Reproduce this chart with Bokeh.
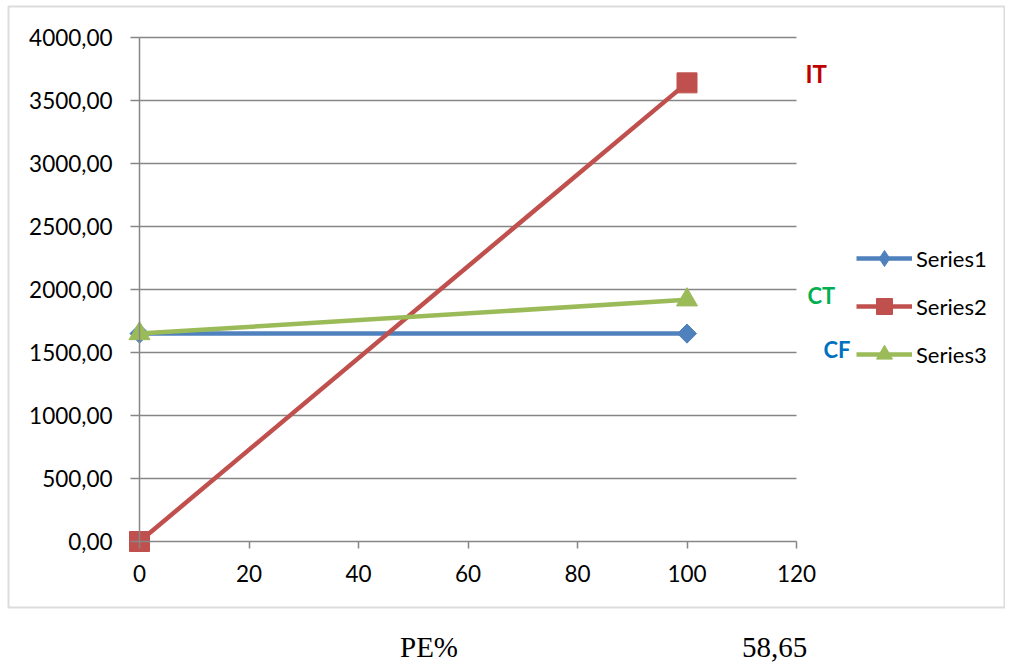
import math
from bokeh.plotting import figure
from bokeh.models import (FixedTicker, CustomJSTickFormatter, Label, Legend, LegendItem,
                          Range1d, Div, LinearAxis, ColumnDataSource, BoxAnnotation)
from bokeh.layouts import column
from bokeh.embed import file_html
from bokeh.resources import INLINE

# ---- data ----
pe = [0, 100]
series1 = [1650, 1650]
series2 = [0, 3640]
series3 = [1650, 1918]
series_names = ["Series1", "Series2", "Series3"]
x_ticks = [0, 20, 40, 60, 80, 100, 120]
y_ticks = [0, 500, 1000, 1500, 2000, 2500, 3000, 3500, 4000]
curve_labels = ["IT", "CT", "CF"]
bottom_texts = ["PE%", "58,65"]

colors = ["#4F81BD", "#C0504D", "#9BBB59"]
label_colors = ["#C00000", "#00B050", "#0070C0"]
AX = "#868686"
FONT = "Lato"

# ---- layout (pixel) constants ----
W, H = 1005, 612
X_LO_PX, X_HI_PX = 139.0, 796.0      # pixel of x=0 and x=120
Y_LO_PX, Y_HI_PX = 541.0, 37.0       # pixel of y=0 and y=4000 (from top)
xs = (X_HI_PX - X_LO_PX) / (x_ticks[-1] - x_ticks[0])
ys = (Y_LO_PX - Y_HI_PX) / (y_ticks[-1] - y_ticks[0])
x_start = x_ticks[0] - X_LO_PX / xs
x_end = x_start + W / xs
y_start = y_ticks[0] - (H - Y_LO_PX) / ys
y_end = y_start + H / ys


def dx(px):
    return x_start + px / xs


def dy(py):
    return y_start + (H - py) / ys


p = figure(width=W, height=H, output_backend="svg", toolbar_location=None,
           x_range=Range1d(x_start, x_end), y_range=Range1d(y_start, y_end),
           x_axis_location=None, y_axis_location=None,
           min_border=0, min_border_left=0, min_border_right=0,
           min_border_top=0, min_border_bottom=0)
p.outline_line_color = None
p.xgrid.visible = False
p.ygrid.visible = False

# outer chart box
p.add_layout(BoxAnnotation(left=dx(8), right=dx(W - 1), top=dy(6), bottom=dy(607),
                           fill_alpha=0, line_color="#8c8c8c", line_width=2))

# gridlines from tick array, spanning data x 0..120
gsrc = ColumnDataSource(dict(y=y_ticks[1:], x0=[x_ticks[0]] * (len(y_ticks) - 1),
                             x1=[x_ticks[-1]] * (len(y_ticks) - 1)))
p.segment(x0="x0", x1="x1", y0="y", y1="y", source=gsrc, line_color=AX, line_width=1.5)

fmt = CustomJSTickFormatter(code="return tick.toFixed(2).replace('.', ',');")
yax = LinearAxis(ticker=FixedTicker(ticks=y_ticks), formatter=fmt, fixed_location=0,
                 bounds=(y_ticks[0], y_ticks[-1]))
xax = LinearAxis(ticker=FixedTicker(ticks=x_ticks), fixed_location=0,
                 bounds=(x_ticks[0], x_ticks[-1]))
for ax in (xax, yax):
    ax.axis_line_color = AX
    ax.axis_line_width = 1.5
    ax.major_tick_line_color = AX
    ax.major_tick_line_width = 1.5
    ax.major_tick_in = 0
    ax.minor_tick_line_color = None
    ax.major_label_text_font = FONT
    ax.major_label_text_font_size = "22.5px"
    ax.major_label_text_color = "#000000"
yax.major_tick_out = 9
yax.major_label_standoff = 18
xax.major_tick_out = 7
xax.major_label_standoff = 16
p.add_layout(yax, "left")
p.add_layout(xax, "below")

items = []
data = [series1, series2, series3]
# (plot marker, size, angle, legend marker)
markers = [("square", 13.5, math.pi / 4, "diamond"), ("square", 20, 0, "square"),
           ("triangle", 21, 0, "triangle")]
for name, yv, c, (m, s, a, lm) in zip(series_names, data, colors, markers):
    ln = p.line(pe, yv, line_color=c, line_width=4.5)
    if lm != m:
        # diamond key marker, drawn beneath the (wider) rotated-square point marker
        key = p.scatter(pe, yv, marker=lm, size=18, fill_color=c, line_color=c)
    sc = p.scatter(pe, yv, marker=m, size=s, angle=a, fill_color=c, line_color=c)
    items.append(LegendItem(label=name, renderers=[ln, key if lm != m else sc]))

legend = Legend(items=items, location=(856, H - 374), orientation="vertical",
                glyph_width=56, glyph_height=40, label_height=40, spacing=8,
                label_standoff=4, padding=0, margin=0,
                label_text_font=FONT, label_text_font_size="22px", label_text_color="#000000",
                border_line_color=None, background_fill_alpha=0)
p.add_layout(legend)

label_px = [(805, 73, "24px"), (807, 295, "22px"), (823, 349, "22px")]
for txt, col, (lx, ly, fs) in zip(curve_labels, label_colors, label_px):
    p.add_layout(Label(x=dx(lx), y=dy(ly), text=txt, text_color=col, text_font=FONT,
                       text_font_style="bold", text_font_size=fs, text_baseline="alphabetic"))

bottom = Div(width=W, height=54, text=(
    '<div style="position:relative;width:1005px;height:54px;'
    'font-family:\'Liberation Serif\';font-size:29px;color:#000;line-height:1;">'
    f'<span style="position:absolute;left:395px;top:16px;">{bottom_texts[0]}</span>'
    f'<span style="position:absolute;left:737px;top:16px;">{bottom_texts[1]}</span>'
    '</div>'))

layout = column(p, bottom, spacing=0)
open("out.html", "w").write(file_html(layout, INLINE))
